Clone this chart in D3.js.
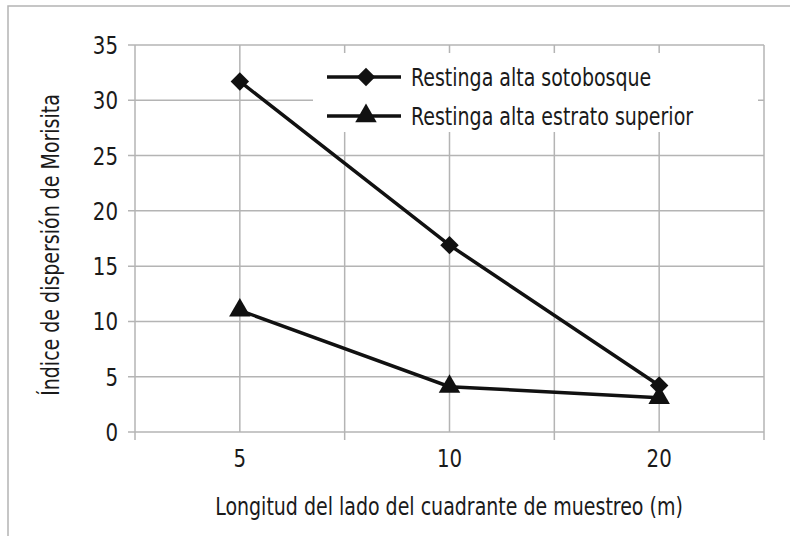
<!DOCTYPE html>
<html>
<head>
  <meta charset="utf-8">
  <title>Morisita</title>
  <style>
    body { margin: 0; background: #fff; }
    text { font-family: "DejaVu Sans Condensed", "Liberation Sans Narrow", sans-serif; fill: #1a1a1a; }
  </style>
</head>
<body>
<script src="https://cdnjs.cloudflare.com/ajax/libs/d3/7.8.5/d3.min.js"></script>
<script>
var w = 790, h = 536;

var categories = ["5", "10", "20"]; // lado del cuadrante (m)
var sotobosque = [31.7, 16.9, 4.2];
var estratoSuperior = [11.0, 4.1, 3.1];
var yTicks = [0, 5, 10, 15, 20, 25, 30, 35];
var seriesNames = ["Restinga alta sotobosque", "Restinga alta estrato superior"];

var mLeft = 135, mRight = 764, mTop = 45, mBottom = 432;
var grid = "#b4b4b4";
var squeeze = 0.88; // condensed look of the original typeface

var svg = d3.select("body").append("svg")
  .attr("width", w)
  .attr("height", h);

// text helper: place at (tx, ty) and squeeze horizontally
function label(parent, tx, ty, str, size, anchor, rot) {
  return parent.append("text")
    .attr("transform", "translate(" + tx + "," + ty + ")" + (rot ? " rotate(" + rot + ")" : "") + " scale(" + squeeze + ",1)")
    .attr("text-anchor", anchor || "start")
    .attr("font-size", size)
    .text(str);
}

// outer frame (right/bottom edges run off the picture)
svg.append("rect")
  .attr("x", 8).attr("y", 6)
  .attr("width", w + 20).attr("height", h + 20)
  .attr("fill", "none").attr("stroke", grid).attr("stroke-width", 1.5);

var x = d3.scaleBand().domain(categories).range([mLeft, mRight]).padding(0);
var y = d3.scaleLinear().domain([0, 35]).range([mBottom, mTop]);

// horizontal grid
svg.selectAll(".hgrid")
  .data(yTicks)
  .enter().append("line")
  .attr("x1", mLeft - 7).attr("x2", mRight)
  .attr("y1", function(d) { return y(d); })
  .attr("y2", function(d) { return y(d); })
  .attr("stroke", grid).attr("stroke-width", 1.5);

// vertical grid: category boundaries and centres
var vlines = [];
categories.forEach(function(c) { vlines.push({pos: x(c), tick: true}); vlines.push({pos: x(c) + x.bandwidth() / 2, tick: false}); });
vlines.push({pos: mRight, tick: true});
svg.selectAll(".vgrid")
  .data(vlines)
  .enter().append("line")
  .attr("x1", function(d) { return d.pos; })
  .attr("x2", function(d) { return d.pos; })
  .attr("y1", mTop)
  .attr("y2", function(d) { return d.tick ? mBottom + 8 : mBottom; })
  .attr("stroke", grid).attr("stroke-width", 1.5);

// y tick labels
yTicks.forEach(function(d) { label(svg, 118, y(d) + 9, d, 25, "end"); });

// x tick labels
categories.forEach(function(c) { label(svg, x(c) + x.bandwidth() / 2, 467, c, 25, "middle"); });

// axis titles
label(svg, 449, 515, "Longitud del lado del cuadrante de muestreo (m)", 24, "middle");
label(svg, 59, 245, "Índice de dispersión de Morisita", 24, "middle", -90);

// lines and markers
var line = d3.line()
  .x(function(d, i) { return x(categories[i]) + x.bandwidth() / 2; })
  .y(function(d) { return y(d); });

var diamond = d3.symbol().type(d3.symbolSquare).size(170);
var triangle = d3.symbol().type(d3.symbolTriangle).size(200);

[sotobosque, estratoSuperior].forEach(function(vals, s) {
  svg.append("path")
    .attr("d", line(vals))
    .attr("fill", "none").attr("stroke", "#111").attr("stroke-width", 3.5);
  svg.selectAll(".m" + s)
    .data(vals)
    .enter().append("path")
    .attr("d", s === 0 ? diamond : triangle)
    .attr("transform", function(d, i) {
      return "translate(" + (x(categories[i]) + x.bandwidth() / 2) + "," + y(d) + ")" + (s === 0 ? " rotate(45)" : "");
    })
    .attr("fill", "#111");
});

// legend
var lg = svg.append("g");
lg.append("rect")
  .attr("x", 313).attr("y", 53).attr("width", 445).attr("height", 79)
  .attr("fill", "#fff");
seriesNames.forEach(function(name, s) {
  var ly = s === 0 ? 77 : 116;
  lg.append("line")
    .attr("x1", 327).attr("x2", 401).attr("y1", ly).attr("y2", ly)
    .attr("stroke", "#111").attr("stroke-width", 3.5);
  lg.append("path")
    .attr("d", s === 0 ? diamond : triangle)
    .attr("transform", "translate(366," + ly + ")" + (s === 0 ? " rotate(45)" : ""))
    .attr("fill", "#111");
  label(lg, 411, ly + 9, name, 24);
});
</script>
</body>
</html>
